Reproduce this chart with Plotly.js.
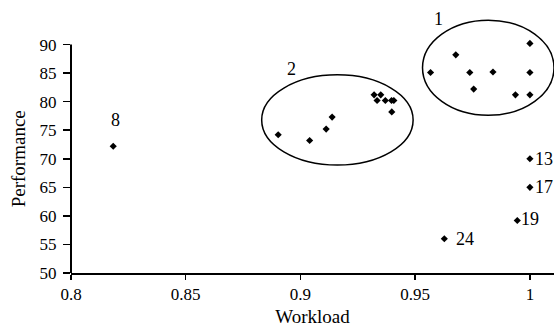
<!DOCTYPE html>
<html>
<head>
<meta charset="utf-8">
<script src="https://cdn.plot.ly/plotly-3.0.1.min.js"></script>
<style>html,body{margin:0;padding:0;background:#fff;}#chart{width:556px;height:333px;}</style>
</head>
<body>
<div id="chart"></div>
<script>
// Cluster 1 points
var c1X = [1.0, 0.9677, 0.9567, 0.9738, 0.9839, 1.0, 0.9755, 0.9937, 1.0];
var c1Y = [90.2, 88.2, 85.1, 85.1, 85.2, 85.1, 82.2, 81.2, 81.2];
// Cluster 2 points
var c2X = [0.8903, 0.9040, 0.9112, 0.9138, 0.9321, 0.9350, 0.9334, 0.9370, 0.9397, 0.9407, 0.9398];
var c2Y = [74.2, 73.2, 75.2, 77.3, 81.2, 81.2, 80.2, 80.2, 80.2, 80.2, 78.2];
// Individually labelled points
var outIds = ["8", "13", "17", "19", "24"];
var outX = [0.8184, 1.0, 1.0, 0.9945, 0.9627];
var outY = [72.2, 70, 65, 59.2, 56.0];
// Cluster ellipses [x0, x1, y0, y1] and their labels
var clusterNames = ["1", "2"];
var ellX0 = [0.9532, 0.8831];
var ellX1 = [1.0105, 0.9491];
var ellY0 = [77.6, 68.9];
var ellY1 = [94.26, 84.7];
var yTicks = [50, 55, 60, 65, 70, 75, 80, 85, 90];
var xTicks = [0.8, 0.85, 0.9, 0.95, 1];
var xTickText = ["0.8", "0.85", "0.9", "0.95", "1"];

var FONT = "Liberation Serif, Times New Roman, serif";

var allX = c1X.concat(c2X, outX);
var allY = c1Y.concat(c2Y, outY);

var trace = {
  x: allX, y: allY, type: 'scatter', mode: 'markers',
  marker: {symbol: 'diamond', size: 5.5, color: '#000'},
  cliponaxis: false, hoverinfo: 'x+y'
};

var shapes = [];
for (var i = 0; i < clusterNames.length; i++) {
  shapes.push({type: 'circle', xref: 'x', yref: 'y',
    x0: ellX0[i], x1: ellX1[i], y0: ellY0[i], y1: ellY1[i],
    line: {color: '#000', width: 1.5}});
}
// y axis line from 50 to 90
shapes.push({type: 'line', xref: 'paper', yref: 'y', x0: 0, x1: 0,
  y0: yTicks[0], y1: yTicks[yTicks.length - 1], line: {color: '#000', width: 2}});

var annotations = [];
// cluster labels above top-left of ellipse
var clLabX = [0.9600, 0.8962];
var clLabY = [94.55, 85.8];
for (var j = 0; j < clusterNames.length; j++) {
  annotations.push({x: clLabX[j], y: clLabY[j], xref: 'x', yref: 'y', text: clusterNames[j],
    showarrow: false, font: {family: FONT, size: 18, color: '#000'}});
}
// point labels
var labStyle = {
  "8": {xanchor: 'center', yanchor: 'bottom', xshift: 2, yshift: 14},
  "13": {xanchor: 'left', yanchor: 'middle', xshift: 3, yshift: 0},
  "17": {xanchor: 'left', yanchor: 'middle', xshift: 3, yshift: 0},
  "19": {xanchor: 'left', yanchor: 'middle', xshift: 2, yshift: 1},
  "24": {xanchor: 'left', yanchor: 'middle', xshift: 10, yshift: 0}
};
for (var k = 0; k < outIds.length; k++) {
  var s = labStyle[outIds[k]];
  annotations.push({x: outX[k], y: outY[k], xref: 'x', yref: 'y', text: outIds[k],
    showarrow: false, xanchor: s.xanchor, yanchor: s.yanchor, xshift: s.xshift, yshift: s.yshift,
    font: {family: FONT, size: 18, color: '#000'}});
}
// y axis title
annotations.push({x: 0, y: 70, xref: 'paper', yref: 'y', text: 'Performance', textangle: -90,
  showarrow: false, xanchor: 'center', yanchor: 'middle', xshift: -52.5,
  font: {family: FONT, size: 19, color: '#000'}});

var layout = {
  width: 556, height: 333,
  margin: {l: 71, r: 2, t: 14, b: 60, pad: 0},
  paper_bgcolor: '#fff', plot_bgcolor: '#fff',
  showlegend: false,
  font: {family: FONT, color: '#000', size: 17},
  xaxis: {
    range: [0.8, 1.0105], showgrid: false, zeroline: false,
    showline: true, linecolor: '#000', linewidth: 2,
    ticks: 'outside', ticklen: 5, tickwidth: 1.5, tickcolor: '#000',
    tickvals: xTicks, ticktext: xTickText,
    tickfont: {family: FONT, size: 17, color: '#000'},
    title: {text: 'Workload', font: {family: FONT, size: 19, color: '#000'}, standoff: 6}
  },
  yaxis: {
    range: [50, 95.35], showgrid: false, zeroline: false,
    showline: false,
    ticks: 'outside', ticklen: 7, tickwidth: 1.5, tickcolor: '#000',
    tickvals: yTicks,
    tickfont: {family: FONT, size: 17, color: '#000'},
    ticklabelstandoff: 3
  },
  shapes: shapes,
  annotations: annotations
};

Plotly.newPlot('chart', [trace], layout, {displayModeBar: false, staticPlot: true});
</script>
</body>
</html>
